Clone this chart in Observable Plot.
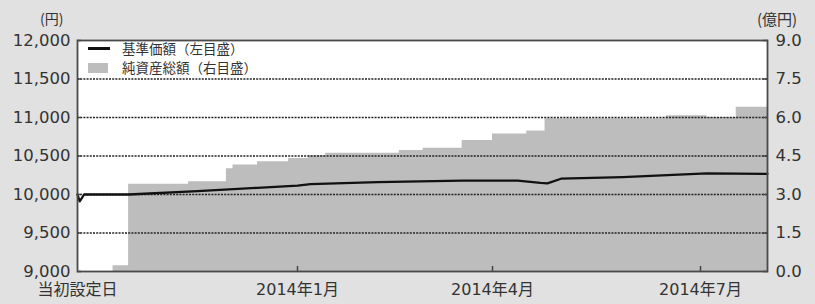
<!DOCTYPE html>
<html>
<head>
<meta charset="utf-8">
<script src="https://cdn.jsdelivr.net/npm/d3@7"></script>
<script src="https://cdn.jsdelivr.net/npm/@observablehq/plot@0.6"></script>
<style>
  html, body { margin: 0; padding: 0; background: #e1e1e1; }
  #wrap { position: relative; width: 815px; height: 304px; font-family: "DejaVu Sans", "Noto Sans CJK JP", sans-serif; color: #333; }
  .unit { position: absolute; font-size: 14px; line-height: 15px; color: #333; font-family: "Noto Sans CJK JP", sans-serif; }
  .legend { position: absolute; left: 88px; top: 38.5px; font-size: 13.5px; line-height: 19.5px; color: #333; font-family: "Noto Sans CJK JP", sans-serif; }
  .legend .row { display: flex; align-items: center; height: 19.5px; }
  .sw-line { width: 22px; height: 3px; background: #111; margin-right: 12px; }
  .sw-box { width: 20px; height: 10px; background: #bdbdbd; margin-right: 14px; }
</style>
</head>
<body>
<div id="wrap"></div>
<script>
// ---- data ----
const navDates = ["2013-09-24","2013-09-25","2013-09-27","2013-10-17","2013-11-17","2013-12-14","2014-01-01","2014-01-07","2014-02-07","2014-03-18","2014-04-12","2014-04-22","2014-04-25","2014-05-01","2014-05-28","2014-06-19","2014-07-04","2014-07-31"];
const navValues = [10000, 9910, 10000, 10000, 10043, 10087, 10115, 10135, 10160, 10180, 10180, 10150, 10145, 10205, 10225, 10255, 10275, 10268];

const assetDates = ["2013-10-10","2013-10-17","2013-11-13","2013-11-30","2013-12-03","2013-12-14","2013-12-28","2014-01-06","2014-01-14","2014-02-17","2014-02-28","2014-03-18","2014-04-01","2014-04-16","2014-04-24","2014-06-16","2014-07-04","2014-07-17","2014-07-31"];
const assetValues = [0.22, 3.40, 3.50, 4.00, 4.15, 4.28, 4.40, 4.52, 4.61, 4.71, 4.80, 5.10, 5.36, 5.47, 5.95, 6.07, 6.00, 6.40, 6.40];

const xTickDates = ["2013-09-24","2014-01-01","2014-04-01","2014-07-01"];
const xTickLabels = ["当初設定日","2014年1月","2014年4月","2014年7月"];
const xEndDate = "2014-07-31";
const yLeftTicks = [9000, 9500, 10000, 10500, 11000, 11500, 12000];
const yRightTicks = [0.0, 1.5, 3.0, 4.5, 6.0, 7.5, 9.0];
const seriesNames = ["基準価額（左目盛）", "純資産総額（右目盛）"];
const leftUnit = "(円)";
const rightUnit = "(億円)";

// ---- build ----
const P = s => new Date(s + "T00:00:00Z");
const nav = navDates.map((d, i) => ({date: P(d), value: navValues[i]}));
const assets = assetDates.map((d, i) => ({date: P(d), value: assetValues[i]}));
const yMin = yLeftTicks[0], yMax = yLeftTicks[yLeftTicks.length - 1];
const rMax = yRightTicks[yRightTicks.length - 1];
const toLeft = v => yMin + v * (yMax - yMin) / rMax;          // 億円 -> left scale
const rightTickPos = yRightTicks.map(toLeft);
const labelFor = new Map(xTickDates.map((d, i) => [+P(d), xTickLabels[i]]));
const gridLevels = yLeftTicks.slice(1, -1).map(v => ({v}));

const xDomain = [P(xTickDates[0]), P(xTickDates[1]), P(xTickDates[2]), P(xTickDates[3]), P(xEndDate)];
const xRange = [77, 297, 492, 700, 767];

const chart = Plot.plot({
  width: 815,
  height: 304,
  marginLeft: 77,
  marginRight: 48,
  marginTop: 40,
  marginBottom: 33,
  style: {background: "transparent", fontFamily: "'DejaVu Sans', 'Noto Sans CJK JP', sans-serif", fontSize: "16.5px", color: "#333"},
  x: {type: "utc", domain: xDomain, range: xRange},
  y: {domain: [yMin, yMax]},
  marks: [
    Plot.frame({fill: "white", stroke: "none"}),
    Plot.areaY(assets, {x: "date", y1: yMin, y2: d => toLeft(d.value), curve: "step-after", fill: "#bdbdbd"}),
    Plot.ruleY(gridLevels, {y: "v", stroke: "#222", strokeWidth: 1.5, strokeDasharray: "2,1.2"}),
    Plot.lineY(nav, {x: "date", y: "value", stroke: "#111", strokeWidth: 2.3}),
    // left axis
    Plot.axisY({anchor: "left", ticks: yLeftTicks, tickSize: 0, tickPadding: 7, tickFormat: d => d3.format(",")(d), label: null, fill: "#333"}),
    Plot.axisY({anchor: "left", ticks: yLeftTicks, tickSize: -4, tickFormat: () => "", label: null, stroke: "#444", strokeWidth: 1.5}),
    // right axis
    Plot.axisY({anchor: "right", ticks: rightTickPos, tickSize: 0, tickPadding: 8, tickFormat: (d, i) => yRightTicks[i].toFixed(1), label: null, fill: "#333"}),
    Plot.axisY({anchor: "right", ticks: rightTickPos, tickSize: -5, tickFormat: () => "", label: null, stroke: "#444", strokeWidth: 1.5}),
    // bottom axis
    Plot.axisX({ticks: xTickDates.map(P), tickSize: 0, tickPadding: 12, tickFormat: d => labelFor.get(+d), label: null, fill: "#333", fontSize: 16}),
    Plot.axisX({ticks: xTickDates.slice(1).map(P), tickSize: -5, tickFormat: () => "", label: null, stroke: "#444", strokeWidth: 1.5}),
    Plot.frame({stroke: "#4a4a4a", strokeWidth: 1.8})
  ]
});

const wrap = document.getElementById("wrap");
wrap.appendChild(chart);

const lu = document.createElement("div");
lu.className = "unit"; lu.textContent = leftUnit; lu.style.left = "40px"; lu.style.top = "11px";
wrap.appendChild(lu);
const ru = document.createElement("div");
ru.className = "unit"; ru.textContent = rightUnit; ru.style.left = "757px"; ru.style.top = "11px"; ru.style.fontSize = "15px";
wrap.appendChild(ru);

const lg = document.createElement("div");
lg.className = "legend";
lg.innerHTML = `<div class="row"><span class="sw-line"></span><span>${seriesNames[0]}</span></div>
<div class="row"><span class="sw-box"></span><span>${seriesNames[1]}</span></div>`;
wrap.appendChild(lg);
</script>
</body>
</html>
